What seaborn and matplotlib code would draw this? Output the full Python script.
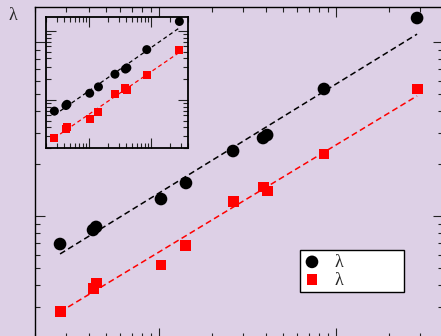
import numpy as np
import pandas as pd
import seaborn as sns
import matplotlib.pyplot as plt

# values (log-log, no tick labels)
x_vals = [2.76, 4.24, 4.41, 10.26, 14.2, 26.2, 38.7, 40.8, 85.5, 287]
black_vals = [0.0690, 0.0831, 0.0865, 0.1252, 0.1548, 0.2363, 0.2807, 0.2920, 0.537, 1.374]
red_vals = [0.0281, 0.0381, 0.0412, 0.0523, 0.0673, 0.1204, 0.1468, 0.1392, 0.2272, 0.537]

# dashed fit lines (end points)
fit_x = [2.76, 287]
fit_black = [0.0605, 1.11]
fit_red = [0.0281, 0.49]

xlim = (2, 400)
ylim = (0.02, 1.6)

bg = "#ddd0e6"

sns.set_style("ticks")
plt.rcParams["font.family"] = ["Liberation Serif", "DejaVu Serif"]

df = pd.DataFrame({"x": x_vals, "black": black_vals, "red": red_vals})
fits = pd.DataFrame({"x": fit_x, "black": fit_black, "red": fit_red})

fig = plt.figure(figsize=(4.41, 3.36), dpi=100, facecolor=bg)
ax = fig.add_axes([0.0800, -0.00476, 0.9236, 0.9854], facecolor=bg)
ins = fig.add_axes([0.1036, 0.5589, 0.3234, 0.3908], facecolor=bg)
ins.set_zorder(5)


def draw(a, big):
    lw = 1.1 if big else 0.9
    dash = (0, (3.9, 2.3)) if big else (0, (3.2, 2.4))
    sns.lineplot(data=fits, x="x", y="black", color="black", lw=lw, linestyle=dash,
                 errorbar=None, ax=a, zorder=2)
    sns.lineplot(data=fits, x="x", y="red", color="#ff0000", lw=lw, linestyle=dash,
                 errorbar=None, ax=a, zorder=2)
    sns.scatterplot(data=df, x="x", y="black", marker="o", color="black",
                    s=83 if big else 42, edgecolor="none", label="λ", ax=a, zorder=3)
    sns.scatterplot(data=df, x="x", y="red", marker="s", color="#ff0000",
                    s=62 if big else 34, edgecolor="none", label="λ", ax=a, zorder=3)
    a.set(xscale="log", yscale="log", xlim=xlim, ylim=ylim, xlabel="", ylabel="")
    a.tick_params(which="both", direction="in", top=True, right=True, bottom=True, left=True,
                  labelbottom=False, labelleft=False, width=0.8, color="#222222")
    a.tick_params(which="major", length=7.2)
    a.tick_params(which="minor", length=3.6)
    for s in a.spines.values():
        s.set_linewidth(1.0 if big else 1.3)
        s.set_color("black")


draw(ax, True)
draw(ins, False)
if ins.get_legend():
    ins.get_legend().remove()

handles, labels = ax.get_legend_handles_labels()
leg = ax.legend(handles, labels, loc="upper left",
                bbox_to_anchor=(0.6494, 0.0, 0.2556, 0.2646), mode="expand",
                borderaxespad=0, fontsize=13, frameon=True, fancybox=False,
                framealpha=1, facecolor="white", edgecolor="black",
                handlelength=0.95, handletextpad=0.8, borderpad=0.2, labelspacing=0.05)
leg.get_frame().set_linewidth(1.0)

fig.text(13 / 441, 1 - 15 / 336, "λ", fontsize=13, ha="center", va="center")

fig.savefig("out.png", dpi=100, facecolor=bg)
